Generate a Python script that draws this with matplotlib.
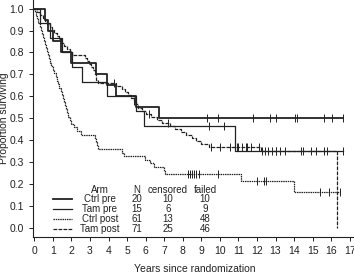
import numpy as np
import matplotlib
matplotlib.use('Agg')
import matplotlib.pyplot as plt

plt.rcParams['font.family'] = ['Liberation Sans', 'DejaVu Sans']

# step curves (time in years, proportion surviving after the step)
ctrl_pre_t = [0, 0.55, 0.75, 1.0, 1.45, 2.0, 3.3, 3.9, 4.4, 5.5, 6.7, 16.65]
ctrl_pre_s = [1.0, 0.95, 0.9, 0.85, 0.8, 0.75, 0.7, 0.65, 0.6, 0.55, 0.5, 0.5]
ctrl_pre_cens = [9.3, 9.9, 11.8, 12.7, 13.0, 14.05, 14.15, 15.6, 16.05, 16.65]

tam_pre_t = [0, 0.3, 0.85, 1.5, 2.05, 2.55, 3.9, 5.5, 5.9, 10.8, 16.65]
tam_pre_s = [1.0, 0.933, 0.867, 0.8, 0.733, 0.667, 0.6, 0.533, 0.467, 0.35, 0.35]
tam_pre_cens = [9.4, 10.2, 13.0, 14.4, 15.6, 16.65]

ctrl_post_t = [0, 0.05, 0.1, 0.15, 0.22, 0.3, 0.38, 0.44, 0.48, 0.53, 0.58, 0.62, 0.67,
               0.72, 0.78, 0.85, 0.92, 1.0, 1.08, 1.15, 1.2, 1.28, 1.35, 1.42, 1.48,
               1.55, 1.6, 1.65, 1.7, 1.75, 1.8, 1.9, 2.0, 2.15, 2.3, 2.5,
               3.25, 3.3, 3.38, 3.45, 4.75, 4.85, 5.95, 6.25, 6.45, 7.0, 7.05,
               11.15, 14.0, 16.5]
ctrl_post_s = [1.0, 0.984, 0.967, 0.951, 0.934, 0.918, 0.902, 0.885, 0.869, 0.852, 0.836, 0.820, 0.803,
               0.787, 0.770, 0.754, 0.738, 0.721, 0.705, 0.689, 0.672, 0.656, 0.639, 0.623, 0.607,
               0.590, 0.574, 0.557, 0.541, 0.525, 0.508, 0.492, 0.475, 0.459, 0.443, 0.426,
               0.410, 0.393, 0.377, 0.361, 0.344, 0.328, 0.311, 0.295, 0.279, 0.262, 0.246,
               0.215, 0.162, 0.162]
ctrl_post_cens = [8.3, 8.4, 8.5, 8.6, 8.7, 8.9, 9.9, 12.0, 12.4, 12.5, 15.4, 15.9, 16.5]

tam_post_t = [0, 0.15, 0.3, 0.45, 0.55, 0.7, 0.85, 0.95, 1.05, 1.2, 1.35, 1.45, 1.6, 1.75, 1.9,
              2.05, 2.75, 2.85, 2.95, 3.05, 3.15, 3.25, 3.3, 3.35, 3.45, 4.4, 4.7, 4.9, 5.05,
              5.2, 5.35, 5.5, 5.6, 5.8, 6.0, 6.3, 6.6, 6.9, 7.3, 7.6, 7.9, 8.2, 8.5, 8.7,
              9.0, 9.4, 12.2, 16.3]
tam_post_s = [1.0, 0.986, 0.972, 0.958, 0.944, 0.930, 0.915, 0.901, 0.887, 0.873, 0.859, 0.845,
              0.831, 0.817, 0.803, 0.789, 0.775, 0.761, 0.746, 0.732, 0.718, 0.704, 0.690,
              0.676, 0.662, 0.648, 0.634, 0.620, 0.606, 0.592, 0.578, 0.563, 0.549, 0.535,
              0.521, 0.507, 0.493, 0.479, 0.465, 0.451, 0.437, 0.423, 0.409, 0.395, 0.381,
              0.367, 0.350, 0.0]
tam_post_cens = [4.3, 5.4, 6.2, 7.2, 9.5, 10.0, 10.55, 10.9, 11.0, 11.2, 11.4, 11.45, 11.7,
                 12.1, 12.25, 12.45, 12.6, 12.8, 13.05, 13.25, 13.5, 14.5, 14.9, 15.2, 15.75]

arms = ['Ctrl pre', 'Tam pre', 'Ctrl post', 'Tam post']
n_pat = [20, 15, 61, 71]
n_cens = [10, 6, 13, 25]
n_fail = [10, 9, 48, 46]

ink = '#222222'
curves = [
    (ctrl_pre_t, ctrl_pre_s, ctrl_pre_cens, '-', 1.3),
    (tam_pre_t, tam_pre_s, tam_pre_cens, '-', 0.9),
    (ctrl_post_t, ctrl_post_s, ctrl_post_cens, (0, (1.2, 0.6)), 0.9),
    (tam_post_t, tam_post_s, tam_post_cens, (0, (3, 1)), 0.9),
]


def surv_at(t, s, x):
    i = np.searchsorted(t, x, side='right') - 1
    return np.asarray(s)[i]


fig = plt.figure(figsize=(3.54, 2.75), dpi=100)
ax = fig.add_axes([33 / 354, 38 / 275, 1 - 33 / 354, 1 - 38 / 275])

for t, s, cens, ls, lw in curves:
    ax.step(t, s, where='post', color=ink, linestyle=ls, linewidth=lw)
    ax.plot(cens, surv_at(t, s, cens), linestyle='none', marker='|',
            markersize=5.5, markeredgewidth=0.7, color=ink)

ax.set_xlim(-0.07, 17.23)
ax.set_ylim(-0.041, 1.039)
ax.set_xticks(range(0, 18))
ax.set_yticks(np.arange(0, 11) / 10)
ax.set_yticklabels([f'{v / 10:.1f}' for v in range(11)])
ax.tick_params(labelsize=7.5, colors=ink, length=3, width=0.7, pad=3.5)
for side in ['top', 'right']:
    ax.spines[side].set_visible(False)
for side in ['left', 'bottom']:
    ax.spines[side].set_linewidth(0.8)
    ax.spines[side].set_color(ink)

fig.text(195 / 354, 1 - 269 / 275, 'Years since randomization', ha='center', va='center',
         fontsize=7.5, color=ink)
fig.text(4 / 354, 1 - 118 / 275, 'Proportion surviving', ha='center', va='center',
         rotation=90, fontsize=7.5, color=ink)

# legend table drawn as text in pixel positions
def px(x, y):
    return x / 354, 1 - y / 275

rows_y = [199.3, 209.3, 219, 229]
fs = 7
for label, x in [('Arm', 100), ('N', 136.7), ('censored', 168), ('failed', 205)]:
    fig.text(*px(x, 190), label, ha='center', va='center', fontsize=fs, color=ink)
for i, y in enumerate(rows_y):
    fig.text(*px(100, y), arms[i], ha='center', va='center', fontsize=fs, color=ink)
    fig.text(*px(136.7, y), str(n_pat[i]), ha='center', va='center', fontsize=fs, color=ink)
    fig.text(*px(168, y), str(n_cens[i]), ha='center', va='center', fontsize=fs, color=ink)
    fig.text(*px(205, y), str(n_fail[i]), ha='center', va='center', fontsize=fs, color=ink)
    x0, yy = px(52.7, y)
    x1, _ = px(71.7, y)
    fig.add_artist(plt.Line2D([x0, x1], [yy, yy], color=ink, linestyle=curves[i][3],
                              linewidth=curves[i][4], transform=fig.transFigure))

fig.savefig('out.png', dpi=100)
